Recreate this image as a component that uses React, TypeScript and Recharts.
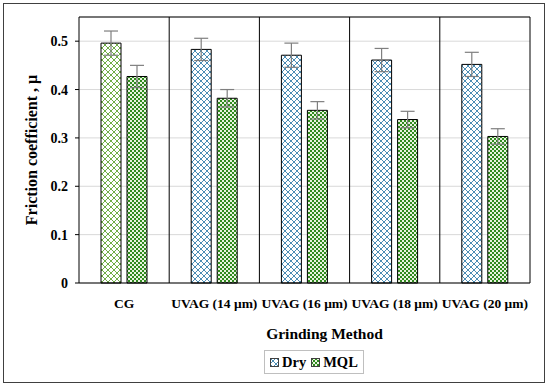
import { BarChart, Bar, XAxis, YAxis, CartesianGrid, ErrorBar, Cell, ReferenceLine } from 'recharts'

const categories = ['CG', 'UVAG (14 μm)', 'UVAG (16 μm)', 'UVAG (18 μm)', 'UVAG (20 μm)']
const dry = [0.496, 0.483, 0.471, 0.461, 0.452]
const dryErr = [0.025, 0.023, 0.025, 0.024, 0.025]
const mql = [0.427, 0.382, 0.357, 0.338, 0.303]
const mqlErr = [0.023, 0.018, 0.018, 0.017, 0.016]
const yTicks = [0, 0.1, 0.2, 0.3, 0.4, 0.5]

const FONT = '"Liberation Serif", serif'

const data = categories.map((c, i) => ({
  name: c,
  dry: dry[i],
  dryErr: dryErr[i],
  mql: mql[i],
  mqlErr: mqlErr[i],
}))

function fmtTick(v: number) {
  return v === 0 ? '0' : v.toFixed(1)
}

// group dividers sit on the band edges of the category axis
function bandEdges({ offset }: any) {
  return categories.map((_, i) => offset.left + (offset.width * (i + 1)) / categories.length)
}

function LegendBox() {
  const items = [
    { label: 'Dry', fill: 'url(#hatchBlue)' },
    { label: 'MQL', fill: 'url(#checkGreen)' },
  ]
  return (
    <div style={{
      position: 'absolute', left: 264, top: 350, display: 'flex', alignItems: 'center', gap: 5,
      border: '1px solid #bfbfbf', padding: '2px 5px', fontFamily: FONT, fontWeight: 'bold', fontSize: 14.5,
      color: '#000', background: '#fff', lineHeight: '18px',
    }}>
      {items.map(it => (
        <span key={it.label} style={{ display: 'flex', alignItems: 'center', gap: 3 }}>
          <svg width="9" height="9"><rect x="0.5" y="0.5" width="8" height="8" fill={it.fill} stroke="#404040" strokeWidth="1" /></svg>
          {it.label}
        </span>
      ))}
    </div>
  )
}

export default function App() {
  return (
    <div style={{ position: 'absolute', left: 0, top: 0, width: 550, height: 388, background: '#fff' }}>
      <div style={{ position: 'absolute', left: 3, top: 3, width: 540, height: 378, border: '1.5px solid #404040' }} />
      <div style={{ position: 'absolute', left: 0, top: 0 }}>
        <BarChart
          width={550} height={388} data={data}
          margin={{ top: 17, right: 20, left: 0, bottom: 75 }}
          barGap={6}
        >
          <defs>
            <pattern id="hatchBlue" width="6" height="6" patternUnits="userSpaceOnUse">
              <rect width="6" height="6" fill="#fff" />
              <path d="M0,0 L6,6 M6,0 L0,6" stroke="#4a8db5" strokeWidth="1" />
            </pattern>
            <pattern id="hatchGreen" width="6" height="6" patternUnits="userSpaceOnUse">
              <rect width="6" height="6" fill="#fff" />
              <path d="M0,0 L6,6 M6,0 L0,6" stroke="#70ad47" strokeWidth="1" />
            </pattern>
            <pattern id="checkGreen" width="4" height="4" patternUnits="userSpaceOnUse">
              <rect width="4" height="4" fill="#e8f3df" />
              <rect x="0" y="0" width="2" height="2" fill="#2f8a1e" />
              <rect x="2" y="2" width="2" height="2" fill="#2f8a1e" />
            </pattern>
          </defs>
          <CartesianGrid vertical={false} stroke="#d9d9d9" strokeWidth={1} />
          <CartesianGrid horizontal={false} stroke="#000" strokeWidth={1} verticalCoordinatesGenerator={bandEdges} />
          <XAxis
            dataKey="name" tickLine={false} axisLine={{ stroke: '#000' }}
            tick={{ fontFamily: FONT, fontWeight: 'bold', fontSize: 13.5, fill: '#000' }}
            tickMargin={9} interval={0}
            label={{ value: 'Grinding Method', position: 'insideBottom', offset: -26, dx: 20, fontFamily: FONT, fontWeight: 'bold', fontSize: 15.5, fill: '#000' }}
          />
          <YAxis
            domain={[0, 0.55]} ticks={yTicks} tickFormatter={fmtTick} width={79}
            axisLine={{ stroke: '#000' }} tickLine={{ stroke: '#000' }} tickSize={4} tickMargin={7}
            tick={{ fontFamily: FONT, fontWeight: 'bold', fontSize: 14, fill: '#000' }}
            label={{ value: 'Friction coefficient , μ', angle: -90, position: 'insideLeft', offset: 31, fontFamily: FONT, fontWeight: 'bold', fontSize: 16, fill: '#000', style: { textAnchor: 'middle' } }}
          />
          <ReferenceLine y={0.55} stroke="#000" />
          <Bar dataKey="dry" name="Dry" barSize={20} stroke="#000" strokeWidth={1} fill="url(#hatchBlue)" isAnimationActive={false}>
            {data.map((d, i) => (
              <Cell key={d.name} fill={i === 0 ? 'url(#hatchGreen)' : 'url(#hatchBlue)'} />
            ))}
            <ErrorBar dataKey="dryErr" width={7} stroke="#7f7f7f" strokeWidth={1.2} />
          </Bar>
          <Bar dataKey="mql" name="MQL" barSize={20} stroke="#000" strokeWidth={1} fill="url(#checkGreen)" isAnimationActive={false}>
            <ErrorBar dataKey="mqlErr" width={7} stroke="#7f7f7f" strokeWidth={1.2} />
          </Bar>
        </BarChart>
      </div>
      <LegendBox />
    </div>
  )
}
